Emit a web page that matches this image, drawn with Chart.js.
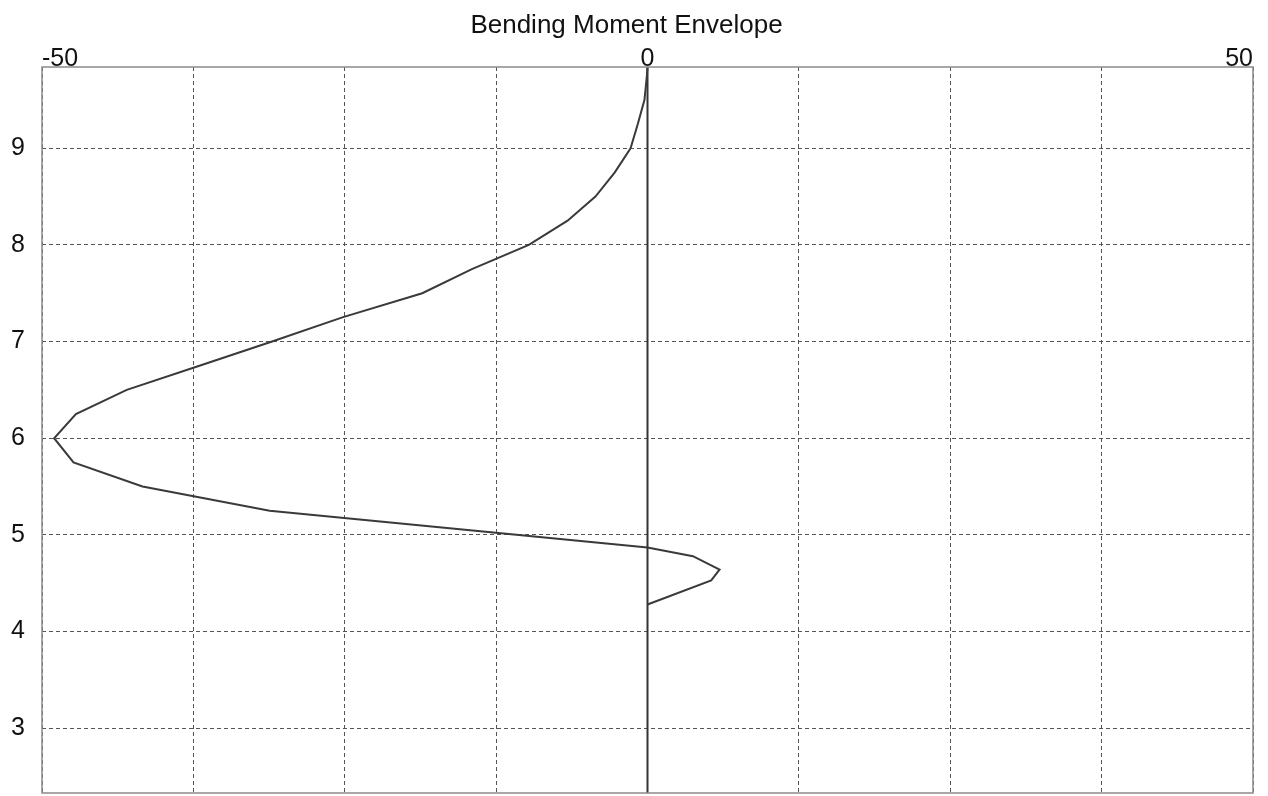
<!DOCTYPE html>
<html>
<head>
<meta charset="utf-8">
<script src="https://cdn.jsdelivr.net/npm/chart.js@4.4.1/dist/chart.umd.min.js"></script>
<style>
  html, body { margin: 0; padding: 0; background: #ffffff; }
  #wrap { width: 1268px; height: 796px; position: relative; }
</style>
</head>
<body>
<div id="wrap"><canvas id="c" width="1268" height="796"></canvas></div>
<script>
// ---- data ----
const chartTitle = "Bending Moment Envelope";
const depth  = [9.84, 9.75, 9.5, 9.25, 9.0, 8.75, 8.5, 8.25, 8.0, 7.75, 7.5, 7.25, 7.0, 6.75, 6.5, 6.25, 6.0, 5.75, 5.5, 5.25, 4.87, 4.78, 4.64, 4.53, 4.28];
const moment = [0, -0.05, -0.25, -0.8, -1.4, -2.7, -4.3, -6.6, -9.8, -14.5, -18.6, -25.2, -31.0, -37.0, -43.0, -47.2, -49.0, -47.4, -41.7, -31.2, 0, 3.75, 5.95, 5.26, 0];
const zeroLineX = [0, 0];
const zeroLineY = [2.33, 9.84];
const xGridValues = [-50, -37.5, -25, -12.5, 0, 12.5, 25, 37.5, 50];
const xLabelValues = [-50, 0, 50];
const yTickValues = [3, 4, 5, 6, 7, 8, 9];
const xMin = -50, xMax = 50, yMin = 2.33, yMax = 9.84;

const FONT = "'Liberation Sans', Arial, sans-serif";

const frame = {
  id: 'frame',
  afterDatasetsDraw(chart) {
    const a = chart.chartArea, ctx = chart.ctx;
    ctx.save();
    ctx.strokeStyle = '#8a8a8a';
    ctx.lineWidth = 1.5;
    ctx.strokeRect(a.left, a.top, a.right - a.left, a.bottom - a.top);
    ctx.restore();
  }
};

new Chart(document.getElementById('c'), {
  type: 'scatter',
  data: {
    datasets: [
      {
        data: zeroLineX.map((x, i) => ({ x: x, y: zeroLineY[i] })),
        showLine: true, borderColor: '#333333', borderWidth: 2,
        pointRadius: 0, fill: false, order: 2
      },
      {
        data: moment.map((m, i) => ({ x: m, y: depth[i] })),
        showLine: true, borderColor: '#3a3a3a', borderWidth: 2,
        pointRadius: 0, fill: false, tension: 0, order: 1
      }
    ]
  },
  options: {
    responsive: false,
    animation: false,
    layout: { padding: { left: 0, right: 15, top: 0, bottom: 3 } },
    plugins: {
      legend: { display: false },
      tooltip: { enabled: false },
      title: {
        display: true, text: chartTitle, color: '#111',
        font: { family: FONT, size: 26, weight: 'normal' },
        padding: { top: 10, bottom: 2 }
      }
    },
    scales: {
      x: {
        type: 'linear', position: 'top', min: xMin, max: xMax,
        afterBuildTicks: s => { s.ticks = xGridValues.map(v => ({ value: v })); },
        afterFit: s => { s.height = 23.8; s.paddingLeft = 0; s.paddingRight = 0; },
        grid: { color: '#555', lineWidth: 1, drawTicks: false },
        border: { display: false, dash: [4, 3] },
        ticks: {
          align: 'inner', padding: -7, color: '#111', maxRotation: 0, autoSkip: false,
          font: { family: FONT, size: 25 },
          callback: v => xLabelValues.includes(v) ? String(v) : ''
        }
      },
      y: {
        type: 'linear', position: 'left', min: yMin, max: yMax,
        afterBuildTicks: s => { s.ticks = yTickValues.map(v => ({ value: v })); },
        afterFit: s => { s.width = 42; s.paddingTop = 0; s.paddingBottom = 0; },
        grid: { color: '#555', lineWidth: 1, drawTicks: false },
        border: { display: false, dash: [4, 3] },
        ticks: {
          padding: 17, color: '#111', autoSkip: false,
          font: { family: FONT, size: 25 },
          callback: v => String(v)
        }
      }
    }
  },
  plugins: [frame]
});
</script>
</body>
</html>
